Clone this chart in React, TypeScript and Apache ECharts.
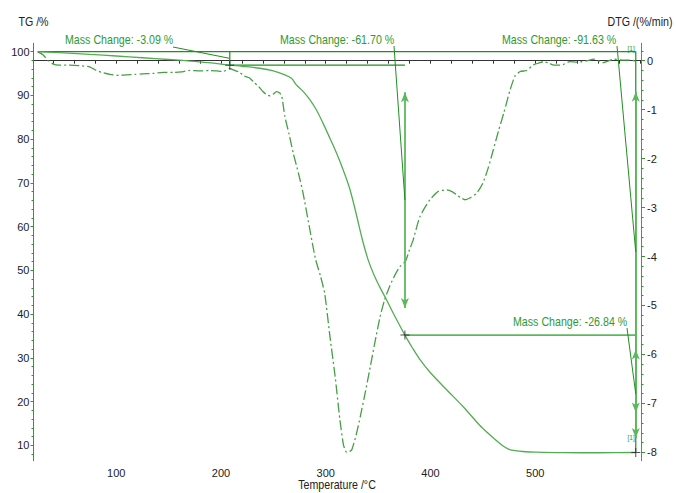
import React, { useEffect, useRef } from "react";
import * as echarts from "echarts";

// ---------- data ----------
const TG_TEMP = [25, 50, 75, 100, 125, 150, 175, 200, 208.4, 220, 237, 250, 261, 267.3, 272, 278.4, 284.8, 291, 297.5, 304, 310.3, 316.6, 323, 329, 335, 340.5, 346, 352, 358, 366, 375.6, 383, 390, 400, 415.5, 431, 447, 454, 462, 469, 475, 482, 488, 500, 527, 560, 596];
const TG_VAL = [100, 99.7, 99.35, 99.0, 98.6, 98.2, 97.75, 97.15, 96.91, 96.65, 96.2, 95.6, 94.7, 93.9, 92.4, 90.9, 89.0, 86.7, 83.6, 80.2, 76.8, 73.0, 68.6, 63.0, 57.0, 52.4, 49.0, 46.0, 43.3, 39.5, 35.21, 32.2, 29.6, 26.6, 22.7, 18.9, 14.6, 13.0, 11.3, 9.9, 9.1, 8.75, 8.6, 8.45, 8.33, 8.32, 8.37];

const DTG_TEMP = [25, 30, 35, 40, 45, 55, 65, 75, 81, 88, 94, 102, 110, 118, 125, 135, 145, 155, 162, 170, 180, 189, 196, 202, 208, 213, 218, 222, 227, 231, 236, 240, 244, 247, 250, 253, 256, 258, 261, 265, 269, 274, 278.4, 284, 290, 295, 299, 304, 309, 313.5, 317, 320, 323, 325, 329, 333, 338, 342, 347, 352, 356, 361, 366, 371, 376, 380, 383.5, 390, 399.5, 407.5, 415.5, 421, 425, 429, 433, 438, 444, 450, 455, 460, 465, 470, 476, 481, 486, 492, 498, 503, 508, 513, 518, 525, 533, 540, 548, 556, 565, 575, 584, 592, 596];
const DTG_VAL = [0.18, 0.12, 0.0, -0.07, -0.09, -0.09, -0.1, -0.13, -0.2, -0.25, -0.28, -0.3, -0.29, -0.28, -0.27, -0.26, -0.24, -0.24, -0.23, -0.2, -0.21, -0.2, -0.21, -0.22, -0.16, -0.2, -0.24, -0.31, -0.35, -0.43, -0.53, -0.63, -0.7, -0.72, -0.68, -0.63, -0.66, -0.72, -1.14, -1.5, -1.89, -2.3, -2.71, -3.35, -4.03, -4.4, -4.75, -5.63, -6.45, -7.33, -7.85, -8.0, -7.98, -7.94, -7.65, -7.27, -6.75, -6.31, -5.75, -5.22, -4.9, -4.61, -4.38, -4.2, -4.1, -3.86, -3.66, -3.18, -2.84, -2.67, -2.64, -2.68, -2.74, -2.8, -2.84, -2.8, -2.71, -2.5, -2.2, -1.82, -1.43, -1.07, -0.6, -0.3, -0.22, -0.2, -0.09, -0.05, -0.02, -0.05, -0.09, -0.09, -0.02, -0.03, -0.01, 0.03, -0.04, 0.03, 0.01, 0.01, -0.02];

const X_LABELS = [100, 200, 300, 400, 500];
const X_TICKS = [40, 60, 80, 100, 120, 140, 160, 180, 200, 220, 240, 260, 280, 300, 320, 340, 360, 380, 400, 420, 440, 460, 480, 500, 520, 540, 560, 580, 600];
const TG_LABELS = [10, 20, 30, 40, 50, 60, 70, 80, 90, 100];
const TG_MINOR = [8, 12, 14, 16, 18, 22, 24, 26, 28, 32, 34, 36, 38, 42, 44, 46, 48, 52, 54, 56, 58, 62, 64, 66, 68, 72, 74, 76, 78, 82, 84, 86, 88, 92, 94, 96, 98];
const DTG_LABELS = [0, -1, -2, -3, -4, -5, -6, -7, -8];
const DTG_MINOR = [-7.8, -7.6, -7.4, -7.2, -6.8, -6.6, -6.4, -6.2, -5.8, -5.6, -5.4, -5.2, -4.8, -4.6, -4.4, -4.2, -3.8, -3.6, -3.4, -3.2, -2.8, -2.6, -2.4, -2.2, -1.8, -1.6, -1.4, -1.2, -0.8, -0.6, -0.4, -0.2, 0.2];

// mass-change evaluation
const START_TEMP = 25;
const START_MASS = 100;
const STEP_TEMPS = [208.4, 375.6, 596];
const MASS_CHANGES = [-3.09, -61.7, -26.84];
const TOTAL_CHANGE = -91.63;

const X_TITLE = "Temperature /°C";
const TG_TITLE = "TG /%";
const DTG_TITLE = "DTG /(%/min)";

const FONT = "'Liberation Sans', Arial, sans-serif";
const NARROW = 0.82;
const DARK = "#1f8f1f";
const LIGHT = "#5cb85c";
const LABEL_GREEN = "#2f9a2f";

export default function App() {
  const ref = useRef<HTMLDivElement>(null);

  useEffect(() => {
    if (!ref.current) return;
    const chart = echarts.init(ref.current, undefined, { renderer: "svg" });

    const L0 = START_MASS;
    const L1 = +(L0 + MASS_CHANGES[0]).toFixed(2);
    const L2 = +(L1 + MASS_CHANGES[1]).toFixed(2);
    const L3 = +(L2 + MASS_CHANGES[2]).toFixed(2);
    const [T1, T2, T3] = STEP_TEMPS;

    const seg = (pts: number[][], color: string, width: number) => ({
      type: "line",
      xAxisIndex: 0,
      yAxisIndex: 0,
      data: pts,
      showSymbol: false,
      symbol: "none",
      silent: true,
      clip: false,
      lineStyle: { color, width },
      z: 3,
    });

    const arrow = (T: number, a: number, b: number) => {
      const inset = Math.max(Math.abs(a - b) * 0.1, 3.3);
      return [
        { coord: [T, Math.max(a, b) - inset] },
        { coord: [T, Math.min(a, b) + inset] },
      ];
    };

    const axisFont = { fontFamily: FONT, fontSize: 11, color: "#222" };

    chart.setOption({
      animation: false,
      backgroundColor: "#fff",
      grid: { left: 33.5, right: 35, top: 43.3, bottom: 32.3, containLabel: false, outerBoundsMode: "none" },
      xAxis: [
        {
          type: "value",
          min: 21,
          max: 601,
          axisLine: { show: true, lineStyle: { color: "#333", width: 1 } },
          axisTick: { show: true, length: 3, customValues: X_TICKS, lineStyle: { color: "#333" } },
          axisLabel: { ...axisFont, margin: 7, customValues: X_LABELS },
          splitLine: { show: false },
        },
      ],
      yAxis: [
        {
          type: "value",
          position: "left",
          min: 6.5,
          max: 101.9,
          axisLine: { show: true, lineStyle: { color: "#2e9a2e", width: 1 } },
          axisTick: { show: true, length: 3, customValues: TG_LABELS, lineStyle: { color: "#2e9a2e" } },
          axisLabel: { ...axisFont, margin: 4, customValues: TG_LABELS },
          splitLine: { show: false },
        },
        {
          type: "value",
          position: "right",
          min: -8.17,
          max: 0.355,
          axisLine: { show: true, lineStyle: { color: "#3aa63a", width: 1 } },
          axisTick: { show: true, length: 4, customValues: DTG_LABELS, lineStyle: { color: "#2e9a2e" } },
          axisLabel: { ...axisFont, margin: 6, customValues: DTG_LABELS },
          splitLine: { show: false },
        },
        {
          type: "value",
          position: "left",
          min: 6.5,
          max: 101.9,
          axisLine: { show: false },
          axisTick: { show: true, length: 2, customValues: TG_MINOR, lineStyle: { color: "#2e9a2e" } },
          axisLabel: { show: false },
          splitLine: { show: false },
        },
        {
          type: "value",
          position: "right",
          min: -8.17,
          max: 0.355,
          axisLine: { show: false },
          axisTick: { show: true, length: 2.5, customValues: DTG_MINOR, lineStyle: { color: "#2e9a2e" } },
          axisLabel: { show: false },
          splitLine: { show: false },
        },
      ],
      series: [
        {
          type: "line",
          name: "TG",
          xAxisIndex: 0,
          yAxisIndex: 0,
          data: TG_TEMP.map((t, i) => [t, TG_VAL[i]]),
          showSymbol: false,
          symbol: "none",
          smooth: 0.3,
          lineStyle: { color: "#52ad52", width: 1.3 },
          z: 4,
        },
        {
          type: "line",
          name: "DTG",
          xAxisIndex: 0,
          yAxisIndex: 1,
          data: DTG_TEMP.map((t, i) => [t, DTG_VAL[i]]),
          showSymbol: false,
          symbol: "none",
          smooth: 0.2,
          lineStyle: { color: "#43a043", width: 1.3, type: [10, 3, 2, 3] },
          z: 4,
        },
        seg([[START_TEMP, L0], [T3, L0]], DARK, 1.2),
        seg([[T1, L0], [T1, L1]], DARK, 1.2),
        seg([[T1, L1], [T2, L1]], DARK, 1.2),
        seg([[T3, L0], [T3, L3]], DARK, 1.2),
        {
          ...seg([[T2, L2], [T3, L2]], LIGHT, 1.8),
          markLine: {
            silent: true,
            symbol: ["arrow", "arrow"],
            symbolSize: [6, 10],
            label: { show: false },
            lineStyle: { color: LIGHT, width: 1.8, type: "solid" },
            data: [arrow(T2, L1, L2), arrow(T3, L0, L3), arrow(T3, L2, L3)],
          },
        },
        {
          type: "scatter",
          xAxisIndex: 0,
          yAxisIndex: 0,
          data: [[T1, L1], [T2, L2], [T3, L3]],
          symbol: "path://M4 0H5V9H4ZM0 4H9V5H0Z",
          symbolSize: 9,
          itemStyle: { color: "#222" },
          silent: true,
          z: 6,
        },
      ],
    });

    const px = (t: number, v: number) =>
      chart.convertToPixel({ xAxisIndex: 0, yAxisIndex: 0 }, [t, v]) as number[];

    const labels = [
      { text: `Mass Change: ${MASS_CHANGES[0].toFixed(2)} %`, x: 65, y: 40, from: [173, 47], to: px(T1, (L0 + L1) / 2) },
      { text: `Mass Change: ${MASS_CHANGES[1].toFixed(2)} %`, x: 280, y: 40, from: [394, 46], to: px(T2, (L1 + L2) / 2) },
      { text: `Mass Change: ${TOTAL_CHANGE.toFixed(2)} %`, x: 502, y: 40, from: [617, 46], to: px(T3, (L0 + L3) / 2) },
      { text: `Mass Change: ${MASS_CHANGES[2].toFixed(2)} %`, x: 513, y: 322, from: [627, 328], to: px(T3, (L2 + L3) / 2) },
    ];

    const txt = (text: string, x: number, y: number, fill: string, size: number, align: string) => ({
      type: "text",
      x,
      y,
      scaleX: NARROW,
      silent: true,
      z: 10,
      style: { text, fill, font: `${size}px ${FONT}`, verticalAlign: "middle", align },
    });

    const graphic: any[] = [];
    labels.forEach((l) => {
      graphic.push(txt(l.text, l.x, l.y, LABEL_GREEN, 13, "left"));
      graphic.push({
        type: "line",
        silent: true,
        shape: { x1: l.from[0], y1: l.from[1], x2: l.to[0], y2: l.to[1] },
        style: { stroke: DARK, lineWidth: 1 },
        z: 10,
      });
    });
    graphic.push(txt(TG_TITLE, 33.5, 22, "#222", 13, "center"));
    graphic.push(txt(DTG_TITLE, 640, 22, "#222", 13, "center"));
    graphic.push(txt(X_TITLE, 337, 485, "#222", 13, "center"));

    const top1 = px(T3, L0);
    const bot1 = px(T3, L3);
    graphic.push(txt("[1]", top1[0] - 1, top1[1] - 3, LABEL_GREEN, 8, "right"));
    graphic.push(txt("[1]", bot1[0] - 1, bot1[1] - 15, LABEL_GREEN, 8, "right"));
    chart.setOption({ graphic });

    return () => chart.dispose();
  }, []);

  return (
    <div
      ref={ref}
      style={{ position: "fixed", left: 0, top: 0, width: 676, height: 493, background: "#fff" }}
    />
  );
}
